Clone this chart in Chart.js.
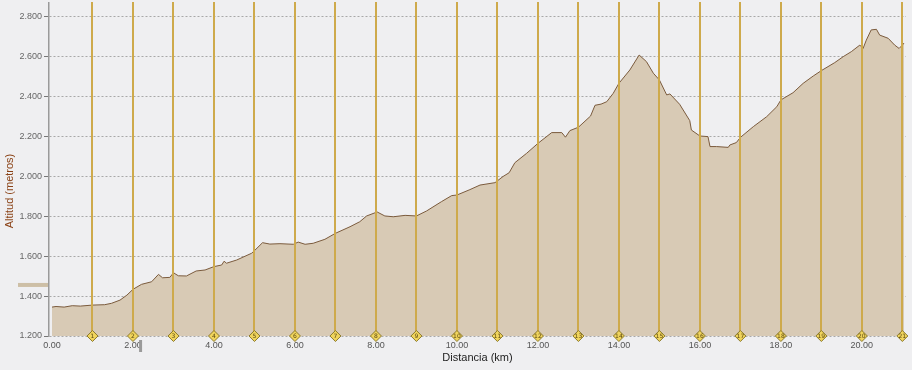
<!DOCTYPE html>
<html>
<head>
<meta charset="utf-8">
<script src="https://cdn.jsdelivr.net/npm/chart.js@4"></script>
<style>
  html, body { margin: 0; padding: 0; background: #efeff1; }
  #wrap { width: 912px; height: 370px; position: relative; }
</style>
</head>
<body>
<div id="wrap"><canvas id="perfil"></canvas></div>
<script>
// perfil de altitud (km, metros)
const distKm = [0.0, 0.1, 0.3, 0.5, 0.7, 1.0, 1.3, 1.47, 1.68, 1.85, 2.0, 2.21, 2.46, 2.63, 2.73, 2.91, 3.0, 3.12, 3.32, 3.56, 3.78,
  4.0, 4.19, 4.25, 4.31, 4.56, 4.93, 5.0, 5.2, 5.38, 5.63, 5.96, 6.08, 6.25, 6.45, 6.74, 7.0, 7.36, 7.6, 7.77, 8.03, 8.22, 8.43,
  8.72, 9.0, 9.25, 9.62, 9.87, 10.0, 10.32, 10.57, 10.94, 11.14, 11.29, 11.43, 11.72, 12.0, 12.34, 12.59, 12.68, 12.79, 13.0,
  13.3, 13.41, 13.56, 13.7, 13.86, 14.0, 14.27, 14.5, 14.68, 14.85, 15.0, 15.18, 15.26, 15.5, 15.75, 15.79, 16.0, 16.2, 16.25,
  16.41, 16.7, 16.74, 16.9, 17.0, 17.32, 17.65, 17.9, 18.0, 18.3, 18.55, 18.8, 19.0, 19.33, 19.54, 19.74, 19.95, 20.03, 20.11,
  20.23, 20.36, 20.44, 20.65, 20.81, 20.92, 21.0, 21.04];
const altitudM = [1345, 1348, 1345, 1352, 1350, 1355, 1357, 1364, 1380, 1405, 1434, 1459, 1472, 1509, 1492, 1494, 1517, 1502, 1501, 1526, 1531,
  1548, 1556, 1575, 1565, 1581, 1615, 1628, 1668, 1661, 1663, 1660, 1671, 1660, 1665, 1685, 1715, 1748, 1773, 1802, 1822, 1802, 1798,
  1805, 1802, 1827, 1874, 1904, 1907, 1934, 1957, 1969, 2000, 2019, 2069, 2116, 2166, 2220, 2220, 2197, 2230, 2247,
  2303, 2357, 2363, 2375, 2417, 2467, 2534, 2609, 2576, 2518, 2484, 2409, 2414, 2362, 2280, 2233, 2203, 2200, 2150,
  2150, 2146, 2158, 2170, 2196, 2250, 2300, 2350, 2384, 2420, 2467, 2504, 2531, 2571, 2601, 2626, 2659, 2642, 2684,
  2735, 2738, 2709, 2693, 2659, 2642, 2659, 2669];

const kmMarks = [1, 2, 3, 4, 5, 6, 7, 8, 9, 10, 11, 12, 13, 14, 15, 16, 17, 18, 19, 20, 21];
const yTicks = [1200, 1400, 1600, 1800, 2000, 2200, 2400, 2600, 2800];
const xLabelKm = [0, 2, 4, 6, 8, 10, 12, 14, 16, 18, 20];
const nivelMarca = 1456;   // barra de la izquierda
const cursorKm = 2.2;      // cursor gris bajo el eje

function fmtMiles(v) {
  return Math.floor(v / 1000) + '.' + String(v % 1000).padStart(3, '0');
}

const decoPlugin = {
  id: 'deco',
  afterDraw(chart) {
    const { ctx, chartArea, scales: { x, y } } = chart;
    ctx.save();
    // franja superior limpia
    ctx.fillStyle = '#efeff1';
    ctx.fillRect(0, 0, chart.width, chartArea.top);
    // marcas km
    kmMarks.forEach(k => {
      const px = x.getPixelForValue(k), py = y.bottom;
      ctx.beginPath();
      ctx.moveTo(px, py - 5.5); ctx.lineTo(px + 5.5, py); ctx.lineTo(px, py + 5.5); ctx.lineTo(px - 5.5, py);
      ctx.closePath();
      ctx.fillStyle = '#f0d45c';
      ctx.fill();
      ctx.strokeStyle = '#8c7a2c';
      ctx.lineWidth = 1;
      ctx.stroke();
      ctx.fillStyle = '#5a4810';
      ctx.font = '6px "DejaVu Sans"';
      ctx.textAlign = 'center';
      ctx.textBaseline = 'middle';
      ctx.fillText(String(k), px, py + 0.5);
    });
    // barra izquierda
    const my = y.getPixelForValue(nivelMarca);
    ctx.fillStyle = '#cdbfa6';
    ctx.fillRect(18, my - 2, 30, 4);
    // cursor
    const cx = x.getPixelForValue(cursorKm);
    ctx.fillStyle = '#9a9a9a';
    ctx.fillRect(cx - 2, y.bottom + 4, 3, 12);
    // titulo eje y
    ctx.translate(10, 191);
    ctx.rotate(-Math.PI / 2);
    ctx.fillStyle = '#8a4216';
    ctx.font = '11px "Liberation Sans"';
    ctx.textAlign = 'center';
    ctx.textBaseline = 'middle';
    ctx.fillText('Altitud (metros)', 0, 0);
    ctx.restore();
  }
};

new Chart(document.getElementById('perfil').getContext('2d'), {
  type: 'line',
  data: {
    datasets: [{
      data: distKm.map((d, i) => ({ x: d, y: altitudM[i] })),
      borderColor: '#7a5a3c',
      borderWidth: 1,
      backgroundColor: '#d8cab5',
      fill: 'start',
      pointRadius: 0,
      tension: 0
    }]
  },
  options: {
    responsive: true,
    maintainAspectRatio: false,
    animation: false,
    layout: { padding: { top: 2, right: 6, left: 0, bottom: 0 } },
    plugins: { legend: { display: false }, tooltip: { enabled: false } },
    scales: {
      x: {
        type: 'linear',
        min: -0.074,
        max: 21.09,
        afterFit: s => { s.height = 34; s.paddingLeft = 0; s.paddingRight = 0; },
        afterBuildTicks: s => {
          s.ticks = kmMarks.concat([0]).sort((a, b) => a - b).map(v => ({ value: v }));
        },
        ticks: {
          autoSkip: false,
          maxRotation: 0,
          padding: 4,
          color: '#555',
          font: { family: 'Liberation Sans', size: 9 },
          callback: v => xLabelKm.includes(v) ? v.toFixed(2) : ''
        },
        grid: {
          z: 1,
          drawTicks: false,
          lineWidth: 2,
          color: c => c.tick && c.tick.value === 0 ? 'rgba(0,0,0,0)' : 'rgb(206,170,76)'
        },
        border: { color: '#7c7c7c', width: 1.5 },
        title: {
          display: true,
          text: 'Distancia (km)',
          color: '#222',
          font: { family: 'Liberation Sans', size: 11 },
          padding: { top: 0, bottom: 5 }
        }
      },
      y: {
        min: 1200,
        max: 2875,
        afterFit: s => { s.width = 49; s.paddingTop = 0; s.paddingBottom = 0; },
        afterBuildTicks: s => { s.ticks = yTicks.map(v => ({ value: v })); },
        ticks: {
          padding: 2,
          color: '#666',
          font: { family: 'Liberation Sans', size: 9 },
          callback: v => fmtMiles(v)
        },
        grid: {
          color: '#a8a8a8',
          tickLength: 5,
          tickColor: '#777',
          tickBorderDash: []
        },
        border: { color: '#9a9a9a', width: 1.5, dash: [2, 2] }
      }
    }
  },
  plugins: [decoPlugin]
});
</script>
</body>
</html>
